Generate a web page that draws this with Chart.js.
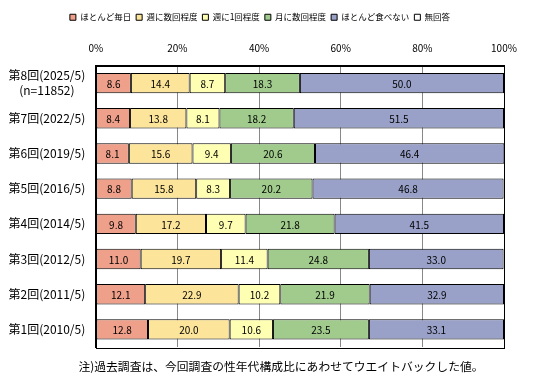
<!DOCTYPE html>
<html>
<head>
<meta charset="utf-8">
<script src="https://cdn.jsdelivr.net/npm/chart.js@4"></script>
<style>
	body { margin:0; background:#fff; }
	#wrap { position:relative; width:550px; height:377px; }
	#note { position:absolute; left:6px; top:357px; width:550px; text-align:center; font:11.8px "Noto Sans CJK JP", sans-serif; color:#000; }
</style>
</head>
<body>
<div id="wrap"><canvas id="c"></canvas><div id="note">注)過去調査は、今回調査の性年代構成比にあわせてウエイトバックした値。</div></div>
<script>
const rounds = [['第8回(2025/5)', '(n=11852)'], '第7回(2022/5)', '第6回(2019/5)', '第5回(2016/5)', '第4回(2014/5)', '第3回(2012/5)', '第2回(2011/5)', '第1回(2010/5)'];
const mainichi = [8.6, 8.4, 8.1, 8.8, 9.8, 11.0, 12.1, 12.8];
const shuSukai = [14.4, 13.8, 15.6, 15.8, 17.2, 19.7, 22.9, 20.0];
const shuIkkai = [8.7, 8.1, 9.4, 8.3, 9.7, 11.4, 10.2, 10.6];
const tsukiSukai = [18.3, 18.2, 20.6, 20.2, 21.8, 24.8, 21.9, 23.5];
const tabenai = [50.0, 51.5, 46.4, 46.8, 41.5, 33.0, 32.9, 33.1];
const mukaito = [0, 0, 0, 0, 0, 0, 0, 0];
const pctTicks = ['0%', '20%', '40%', '60%', '80%', '100%'];

const jp = '"Noto Sans CJK JP", "Noto Sans", sans-serif';

const ds = (label, data, color) => ({
	label: label,
	data: data,
	backgroundColor: color,
	borderColor: '#000',
	borderWidth: 1,
	borderSkipped: false,
	barPercentage: 0.58,
	categoryPercentage: 1,
});

// value labels in the middle of each segment + frame round the plot
const inBarLabels = {
	id: 'inBarLabels',
	afterLayout(chart) {
		// legend sits a bit right of centre in the original
		chart.legend.left += 5;
		chart.legend.right += 5;
	},
	afterDatasetsDraw(chart) {
		const ctx = chart.ctx;
		ctx.save();
		ctx.font = '10px ' + jp;
		ctx.fillStyle = '#000';
		ctx.textAlign = 'center';
		ctx.textBaseline = 'middle';
		chart.data.datasets.forEach((d, i) => {
			const meta = chart.getDatasetMeta(i);
			meta.data.forEach((bar, j) => {
				if (!d.data[j]) return;
				const p = bar.getCenterPoint();
				ctx.fillText(d.data[j].toFixed(1), p.x, p.y + 1);
			});
		});
		const a = chart.chartArea;
		ctx.strokeStyle = '#000';
		ctx.lineWidth = 1;
		ctx.strokeRect(Math.round(a.left) + 0.5, Math.round(a.top) + 0.5, Math.round(a.right - a.left), Math.round(a.bottom - a.top));
		ctx.restore();
	}
};

new Chart(document.getElementById('c'), {
	type: 'bar',
	data: {
		labels: rounds,
		datasets: [
			ds('ほとんど毎日', mainichi, '#EEA08A'),
			ds('週に数回程度', shuSukai, '#FCE59A'),
			ds('週に1回程度', shuIkkai, '#FFFFB3'),
			ds('月に数回程度', tsukiSukai, '#A0CB8C'),
			ds('ほとんど食べない', tabenai, '#99A1C8'),
			ds('無回答', mukaito, '#FFFFFF'),
		]
	},
	options: {
		indexAxis: 'y',
		responsive: true,
		maintainAspectRatio: false,
		animation: false,
		layout: { padding: { left: 6, right: 46, top: 8, bottom: 30 } },
		plugins: {
			legend: {
				position: 'top',
				labels: {
					boxWidth: 6,
					boxHeight: 6,
					padding: 5,
					color: '#000',
					font: { size: 8.5, family: jp }
				}
			},
			tooltip: { enabled: false }
		},
		scales: {
			x: {
				position: 'top',
				stacked: true,
				min: 0,
				max: 100,
				ticks: {
					stepSize: 20,
					color: '#000',
					padding: 11,
					font: { size: 10, family: jp },
					callback: (v, i) => pctTicks[i]
				},
				grid: { color: '#888', drawTicks: false },
				border: { color: '#000' }
			},
			y: {
				stacked: true,
				ticks: {
					color: '#000',
					crossAlign: 'center',
					padding: 2.5,
					font: { size: 12, family: jp }
				},
				grid: { display: false },
				border: { color: '#000' }
			}
		}
	},
	plugins: [inBarLabels]
});
</script>
</body>
</html>
